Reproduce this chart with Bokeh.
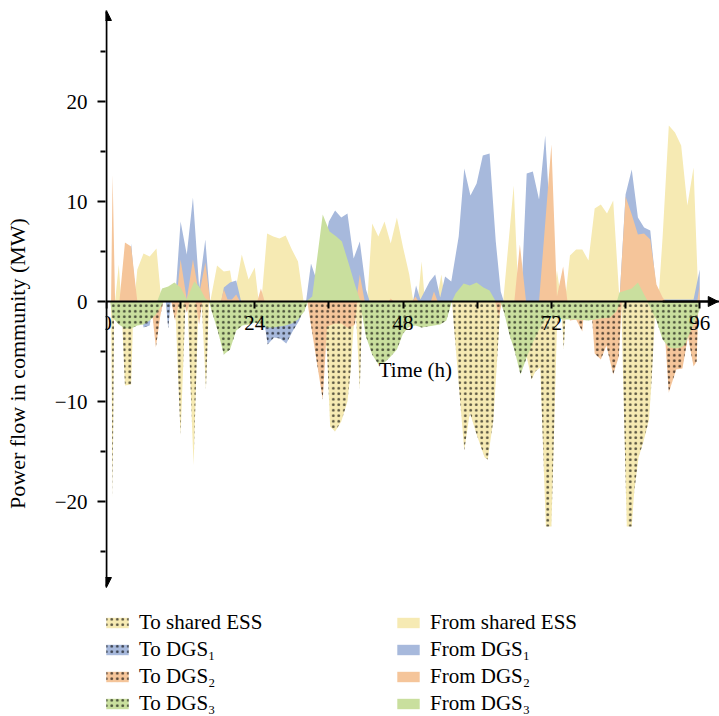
from bokeh.plotting import figure
from bokeh.models import (Range1d, FixedTicker, Label, Legend, LegendItem, Arrow,
                          NormalHead, LinearAxis)
from bokeh.embed import file_html
from bokeh.resources import INLINE

# ---- data: (hour, MW) breakpoints ----
FROM_ESS = [(1.4,0),(2.0,3.7),(2.4,0),(4.5,0),(5.0,3.2),(6.0,4.8),(7.0,4.5),(8.1,5.3),(8.9,0),
            (16.8,0),(17.9,3.6),(19.0,3.0),(20.0,3.1),(20.7,0.5),(21.9,4.7),(23.0,2.2),(24.0,3.4),
            (24.6,0.2),(25.1,0.2),(26.0,6.8),(27.0,6.5),(28.0,6.3),(29.0,6.6),(30.0,5.2),(31.0,4.0),
            (31.9,0),(42.2,0),(43.0,7.8),(44.0,6.5),(45.0,8.0),(46.0,5.8),(47.0,8.4),(48.0,5.4),
            (49.0,2.7),(49.6,0.2),(50.4,0.2),(51.0,4.0),(51.5,0.3),(53.5,0.3),(54.2,2.7),(54.8,0),
            (64.2,0),(65.9,11.6),(66.7,0),(72.3,0),(72.9,3.1),(73.5,0.5),(74.2,0),(75.0,4.6),
            (76.0,5.2),(77.0,5.2),(78.0,4.1),(79.0,9.3),(80.0,9.7),(81.0,8.8),(82.0,10.1),(83.0,0.3),
            (83.3,0),(89.3,0),(90.0,6.5),(91.0,17.6),(92.0,16.9),(93.0,15.6),(94.0,9.6),(95.0,13.4),
            (95.8,0)]
FROM_DGS1 = [(3.5,0),(4.0,5.8),(4.8,0),(11.1,0),(12.0,8.0),(13.0,4.7),(14.0,10.4),(15.0,1.4),
             (16.0,6.2),(16.8,0),(18.6,0),(19.0,1.4),(20.0,1.9),(21.0,2.1),(21.8,0),(32.3,0),
             (33.1,3.8),(33.8,2.5),(35.0,5.0),(36.0,8.0),(37.0,9.1),(38.0,8.4),(39.0,8.8),(40.0,4.3),
             (41.0,6.0),(42.0,1.2),(42.6,0),(49.6,0),(50.1,1.6),(50.8,0.2),(52.3,2.0),(53.2,2.7),
             (54.0,0.4),(54.8,2.5),(55.8,2.0),(57.0,6.5),(57.9,13.3),(58.9,10.6),(59.9,11.8),
             (60.9,14.6),(62.0,14.8),(63.0,6.0),(63.8,1.0),(64.3,0),(67.1,0),(68.0,12.8),(69.0,13.0),
             (70.0,10.2),(71.0,16.6),(72.0,6.0),(72.6,0),(83.0,0),(84.0,10.7),(85.0,13.2),(86.0,8.4),
             (87.0,7.4),(88.0,7.1),(89.0,1.1),(89.5,0.2),(95.0,0.2),(96.0,3.2)]
FROM_DGS2 = [(0.75,0),(1.0,12.7),(1.4,0),(2.1,0),(3.0,5.9),(4.0,5.5),(5.0,0),(11.3,0),(12.0,4.2),
             (13.0,0.2),(14.0,4.2),(15.0,0.7),(16.0,3.9),(16.8,0),(18.5,0),(19.0,1.2),(19.6,0.2),
             (20.3,0.2),(21.0,0.7),(21.6,0),(24.4,0),(25.0,1.3),(25.6,0),(40.4,0),(41.0,2.7),
             (41.8,0),(45.6,0),(46.0,0.3),(46.5,0),(49.5,0),(50.0,0.5),(50.5,0),(52.5,0),(53.0,1.0),
             (53.6,0),(66.0,0),(66.9,5.7),(67.9,0),(70.0,0),(72.0,15.7),(72.9,0.5),(73.9,3.5),
             (74.6,0),(83.0,0),(84.0,10.5),(85.0,8.7),(86.0,6.7),(87.0,6.8),(88.0,6.2),(89.0,1.7),
             (90.0,0.4),(90.5,0),(95.6,0),(96.0,1.7)]
FROM_DGS3 = [(8.2,0),(9.0,1.3),(10.0,1.5),(11.0,1.9),(12.0,1.4),(13.0,0.2),(14.2,2.0),(15.0,1.5),
             (16.0,0.3),(16.8,0),(32.3,0),(33.3,0.5),(35.0,8.7),(36.1,7.0),(37.2,6.5),(38.1,6.0),
             (39.2,3.8),(40.2,1.7),(41.0,0.2),(41.3,0),(55.9,0),(56.5,0.8),(57.8,1.8),(58.8,1.6),
             (59.9,1.9),(61.0,1.4),(62.0,1.1),(63.0,0),(82.6,0),(83.0,0.9),(84.0,1.1),(85.0,1.3),
             (86.0,1.9),(87.0,0.7),(87.6,0)]
TO_ESS = [(0.75,0),(1.0,-19.8),(1.25,0),(2.4,0),(3.0,-8.4),(4.0,-8.3),(4.4,0),(11.1,0),(12.0,-13.4),
          (12.8,0),(13.1,0),(14.1,-16.4),(14.9,0),(15.4,0),(16.1,-8.8),(16.6,0),(33.0,0),(35.0,-2.5),
          (35.7,-5.0),(36.2,-12.5),(37.0,-13.0),(38.0,-12.0),(39.0,-10.0),(39.5,-7.0),(40.0,-2.5),
          (40.4,-1.5),(41.0,-8.8),(41.4,0),(55.9,0),(57.9,-14.9),(58.8,-11.1),(59.9,-13.3),
          (61.2,-15.6),(61.7,-15.8),(62.6,-11.9),(63.8,0),(65.5,0),(68.0,-5.5),(68.8,-7.8),
          (69.4,-7.0),(70.2,-6.6),(71.1,-22.5),(72.0,-22.5),(72.9,-2.5),(73.6,-0.5),(74.0,-4.8),
          (74.4,0),(83.3,0),(84.2,-22.5),(85.0,-22.5),(85.4,-19.0),(86.1,-15.6),(86.9,-14.0),
          (87.8,-11.8),(88.2,-8.0),(88.8,-1.0),(88.9,0)]
TO_DGS1 = [(5.5,0),(6.0,-2.6),(7.0,-2.4),(7.5,0),(9.6,0),(10.0,-2.7),(10.4,0),(25.0,0),(25.6,-2.3),
           (26.1,-4.3),(27.1,-3.6),(28.1,-3.7),(29.1,-4.2),(30.2,-2.9),(31.2,-1.9),(32.3,0),
           (77.6,0),(78.0,-2.0),(78.4,0)]
TO_DGS2 = [(7.2,0),(8.0,-4.6),(8.7,-1.5),(9.2,0),(10.5,0),(11.1,-1.9),(11.8,0),(12.5,0),(13.0,-1.1),
           (13.5,0),(14.4,0),(15.0,-2.3),(15.5,0),(32.5,0),(35.0,-9.8),(35.7,-2.5),(37.0,-2.2),
           (38.0,-2.2),(39.2,-2.7),(40.2,-2.3),(40.6,0),(62.9,0),(63.5,-1.5),(64.0,0),(74.6,0),
           (75.0,-1.9),(76.0,-1.8),(77.0,-3.0),(77.4,0),(78.4,0),(79.0,-5.2),(80.0,-5.8),(80.9,-4.4),
           (82.0,-7.3),(82.9,-5.5),(83.4,0),(90.0,0),(91.0,-9.1),(92.2,-6.8),(93.2,-6.7),(94.1,-3.5),
           (95.0,-6.5),(95.5,-6.0),(95.8,0)]
TO_DGS3 = [(0.6,0),(1.0,-1.6),(2.0,-2.3),(3.0,-2.7),(4.0,-2.7),(5.0,-2.4),(6.0,-2.3),(7.0,-1.9),
           (8.0,-1.3),(9.0,-0.3),(9.3,0),(16.6,0),(17.0,-0.9),(18.0,-2.9),(19.0,-5.3),(20.0,-4.8),
           (21.0,-2.9),(22.0,-2.4),(23.0,-2.3),(24.0,-2.1),(25.0,-2.3),(26.0,-2.6),(27.0,-2.6),
           (28.0,-2.5),(29.0,-2.4),(30.0,-2.2),(31.0,-1.8),(32.0,-1.0),(32.6,0),(41.0,0),(42.0,-3.5),
           (43.0,-5.3),(44.0,-6.3),(45.0,-6.1),(46.0,-5.5),(47.0,-4.8),(48.0,-3.2),(49.0,-2.5),
           (50.0,-2.4),(51.0,-2.6),(52.0,-2.5),(53.0,-2.4),(54.0,-2.3),(55.0,-1.9),(55.9,0),(63.7,0),
           (64.3,-1.0),(65.3,-3.5),(66.0,-4.8),(67.0,-7.3),(68.0,-5.6),(69.0,-4.1),(70.0,-2.8),
           (71.0,-1.8),(72.0,-1.6),(74.0,-1.8),(76.0,-1.8),(78.0,-1.9),(80.0,-1.7),(81.5,-1.6),
           (82.5,-1.0),(83.2,0),(87.5,0),(88.0,-0.6),(89.0,-1.9),(90.0,-3.8),(91.0,-4.6),(92.0,-4.7),
           (93.0,-4.6),(93.6,-4.3),(95.0,-2.3),(96.0,-0.8)]

X_TICKS = [0, 12, 24, 36, 48, 60, 72, 84, 96]
X_LABELS = {12: "", 36: "", 60: "", 84: ""}
Y_TICKS = [-20, -10, 0, 10, 20]
Y_MINOR = [-25, -15, -5, 5, 15, 25]
Y_LABELS = {-20: "\u221220", -10: "\u221210"}
Y_AXIS_EXTENT = (-28.6, 29.1)
X_AXIS_END = 99.0

COL_ESS, COL_D1, COL_D2, COL_D3 = "#F6EAB3", "#A7B9DC", "#F5C59A", "#C9DF9E"
FONT = "Liberation Serif"


def unzip(pts):
    return [t for t, _ in pts], [v for _, v in pts]


p = figure(width=719, height=716, x_range=Range1d(-0.15, 99.2),
           y_range=Range1d(-41.5, Y_AXIS_EXTENT[1]),
           output_backend="svg", toolbar_location=None,
           x_axis_location=None, y_axis_location=None,
           min_border_left=105, min_border_right=0, min_border_top=10, min_border_bottom=0)
p.outline_line_color = None
p.grid.visible = False

hatch = dict(hatch_pattern="dot", hatch_color="black", hatch_scale=5.5, hatch_weight=0.8,
             hatch_alpha=0.65)

renderers = {}
for key, pts, col, hatched in [
        ("from_ess", FROM_ESS, COL_ESS, False), ("to_ess", TO_ESS, COL_ESS, True),
        ("from_d1", FROM_DGS1, COL_D1, False), ("to_d1", TO_DGS1, COL_D1, True),
        ("from_d2", FROM_DGS2, COL_D2, False), ("to_d2", TO_DGS2, COL_D2, True),
        ("from_d3", FROM_DGS3, COL_D3, False), ("to_d3", TO_DGS3, COL_D3, True)]:
    t, v = unzip(pts)
    kw = dict(hatch) if hatched else {}
    renderers[key] = p.varea(x=t, y1=0, y2=v, fill_color=col, fill_alpha=1.0, **kw)

# x axis crossing at y = 0
xaxis = LinearAxis(fixed_location=0, ticker=FixedTicker(ticks=X_TICKS),
                   major_label_overrides=X_LABELS)
xaxis.axis_line_width = 2
xaxis.major_tick_in = 0
xaxis.major_tick_out = 7
xaxis.major_tick_line_width = 2
xaxis.minor_tick_out = 0
xaxis.major_label_standoff = 7
xaxis.major_label_text_font = FONT
xaxis.major_label_text_font_size = "21px"
xaxis.major_label_text_color = "black"
p.add_layout(xaxis, "below")

# y axis at the frame's left edge (x = 0)
yaxis = LinearAxis(ticker=FixedTicker(ticks=Y_TICKS, minor_ticks=Y_MINOR),
                   major_label_overrides=Y_LABELS, axis_label="Power flow in community (MW)")
yaxis.axis_line_color = None
yaxis.major_tick_in = 0
yaxis.major_tick_out = 8
yaxis.major_tick_line_width = 2
yaxis.minor_tick_in = 0
yaxis.minor_tick_out = 5
yaxis.minor_tick_line_width = 2
yaxis.major_label_standoff = 10
yaxis.major_label_text_font = FONT
yaxis.major_label_text_font_size = "21px"
yaxis.major_label_text_color = "black"
yaxis.axis_label_text_font = FONT
yaxis.axis_label_text_font_size = "22px"
yaxis.axis_label_text_font_style = "normal"
yaxis.axis_label_text_color = "black"
yaxis.axis_label_standoff = 22
p.add_layout(yaxis, "left")

head = dict(size=10, fill_color="black", line_color="black")
p.add_layout(Arrow(x_start=0, y_start=Y_AXIS_EXTENT[0], x_end=0, y_end=Y_AXIS_EXTENT[1],
                   start=NormalHead(**head), end=NormalHead(**head),
                   line_width=2, line_color="black"))
p.add_layout(Arrow(x_start=90, y_start=0, x_end=X_AXIS_END, y_end=0,
                   end=NormalHead(**head), line_width=2, line_color="black"))

p.add_layout(Label(x=50.0, y=-6.8, text="Time (h)", text_align="center", text_baseline="middle",
                   text_font=FONT, text_font_size="21px", text_color="black"))

items = [
    LegendItem(label="To shared ESS", renderers=[renderers["to_ess"]]),
    LegendItem(label="To DGS\u2081", renderers=[renderers["to_d1"]]),
    LegendItem(label="To DGS\u2082", renderers=[renderers["to_d2"]]),
    LegendItem(label="To DGS\u2083", renderers=[renderers["to_d3"]]),
    LegendItem(label="From shared ESS", renderers=[renderers["from_ess"]]),
    LegendItem(label="From DGS\u2081", renderers=[renderers["from_d1"]]),
    LegendItem(label="From DGS\u2082", renderers=[renderers["from_d2"]]),
    LegendItem(label="From DGS\u2083", renderers=[renderers["from_d3"]]),
]
legend = Legend(items=items, location=(-2, 0), orientation="vertical", ncols=2,
                glyph_width=28, glyph_height=13, label_standoff=8, label_width=253,
                spacing=2, padding=0, margin=0, border_line_color=None,
                background_fill_alpha=0, label_text_font=FONT, label_text_font_size="21px",
                label_text_color="black")
p.add_layout(legend)

open("out.html", "w").write(file_html(p, INLINE))
